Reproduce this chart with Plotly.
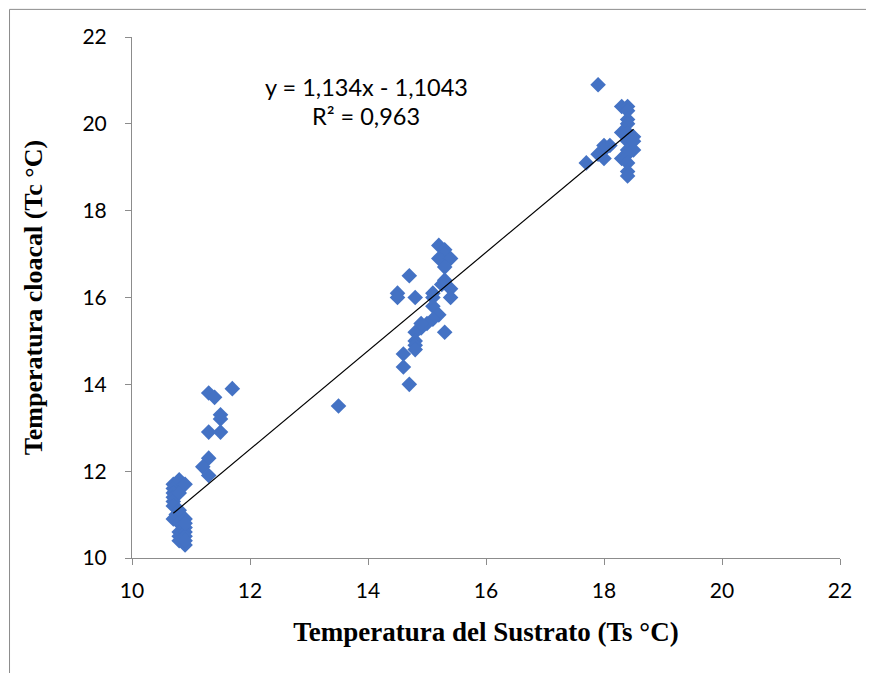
import plotly.graph_objects as go

# Substrate temperature (Ts °C) and cloacal temperature (Tc °C)
ts = [10.7, 10.7, 10.7, 10.7, 10.7, 10.7, 10.7, 10.75, 10.8, 10.8, 10.8, 10.8, 10.8, 10.8, 10.8,
      10.9, 10.9, 10.9, 10.9, 10.9, 10.9, 10.9, 10.9,
      11.3, 11.7, 11.4, 11.5, 11.5, 11.3, 11.5, 11.3, 11.2, 11.3,
      13.5,
      14.5, 14.5, 14.7, 14.8, 15.2, 15.3, 15.3, 15.2, 15.4, 15.3, 15.25, 15.3, 15.4, 15.4, 15.1, 15.1,
      15.1, 15.2, 15.1, 15.0, 14.9, 14.8, 14.8, 14.8, 14.8, 14.6, 14.6, 14.7, 15.3, 14.9,
      17.9, 18.3, 18.4, 18.4, 18.4, 18.4, 18.4, 18.5, 18.4, 18.4, 18.5, 18.4, 18.3, 18.4, 18.4, 18.4,
      18.0, 18.1, 18.0, 17.9, 18.0, 17.7, 18.3, 18.5]
tc = [11.7, 11.6, 11.5, 11.4, 11.3, 11.2, 10.9, 11.0, 11.8, 11.5, 11.1, 10.8, 10.6, 10.5, 10.4,
      11.7, 10.9, 10.7, 10.6, 10.5, 10.3, 10.4, 10.8,
      13.8, 13.9, 13.7, 13.3, 13.2, 12.9, 12.9, 12.3, 12.1, 11.9,
      13.5,
      16.1, 16.0, 16.5, 16.0, 17.2, 17.1, 17.0, 16.9, 16.9, 16.7, 16.3, 16.4, 16.2, 16.0, 16.1, 16.0,
      15.8, 15.6, 15.5, 15.4, 15.3, 15.2, 15.0, 14.9, 14.8, 14.7, 14.4, 14.0, 15.2, 15.4,
      20.9, 20.4, 20.4, 20.3, 20.1, 20.0, 19.8, 19.7, 19.6, 19.4, 19.4, 19.3, 19.2, 19.1, 18.9, 18.8,
      19.5, 19.5, 19.4, 19.3, 19.2, 19.1, 19.8, 19.6]

slope = 1.134
intercept = -1.1043
eq_text = "y = 1,134x - 1,1043"
r2_text = "R² = 0,963"

x_ticks = [10, 12, 14, 16, 18, 20, 22]
y_ticks = [10, 12, 14, 16, 18, 20, 22]

trend_x = [min(ts), max(ts)]
trend_y = [slope * v + intercept for v in trend_x]

fig = go.Figure()
fig.add_trace(go.Scatter(
    x=ts, y=tc, mode="markers",
    marker=dict(symbol="diamond", size=12, color="#4472C4", line=dict(width=0)),
    showlegend=False, hoverinfo="x+y"))
fig.add_trace(go.Scatter(
    x=trend_x, y=trend_y, mode="lines",
    line=dict(color="black", width=1.2), showlegend=False, hoverinfo="skip"))

tick_font = dict(family="Lato, Liberation Sans, sans-serif", size=21, color="black")
ann_font = dict(family="Lato, Liberation Sans, sans-serif", size=23.5, color="black")

axis_common = dict(
    showgrid=False, zeroline=False, showline=True, linecolor="#8c8c8c", linewidth=1,
    ticks="outside", ticklen=6, tickcolor="#8c8c8c", tickfont=tick_font,
    range=[10, 22], fixedrange=True)

fig.update_xaxes(**axis_common, tickvals=x_ticks, ticktext=[str(v) for v in x_ticks],
                 ticklabelstandoff=8,
                 title=dict(text="<b>Temperatura del Sustrato (Ts °C)</b>",
                            font=dict(family="Liberation Serif, Times New Roman, serif", size=27, color="black"),
                            standoff=20))
fig.update_yaxes(**axis_common, tickvals=y_ticks, ticktext=[str(v) for v in y_ticks],
                 ticklabelstandoff=14,
                 title=dict(text="<b>Temperatura cloacal (Tc °C)</b>",
                            font=dict(family="Liberation Serif, Times New Roman, serif", size=26, color="black"),
                            standoff=32))

fig.add_annotation(x=13.97, y=20.85, xref="x", yref="y", text=eq_text, showarrow=False, font=ann_font)
fig.add_annotation(x=13.97, y=20.18, xref="x", yref="y", text=r2_text, showarrow=False, font=ann_font)

# outer chart border
fig.add_shape(type="rect", xref="paper", yref="paper",
              x0=-0.1730, x1=1.2, y0=-0.4, y1=1.0530,
              line=dict(color="#8c8c8c", width=1), layer="below")

fig.update_layout(
    width=874, height=673,
    margin=dict(l=124, r=42, t=29, b=123),
    paper_bgcolor="white", plot_bgcolor="white",
)

fig.write_html("out.html")
